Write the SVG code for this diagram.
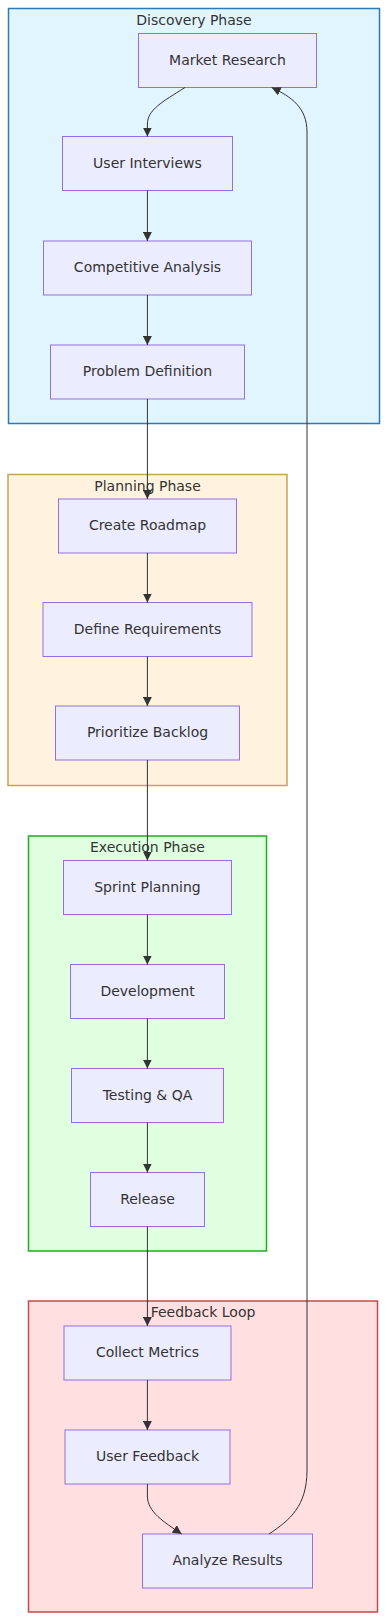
<svg xmlns="http://www.w3.org/2000/svg" width="387" height="1621" viewBox="0 0 387 1621">
<style>
.cl{stroke-width:1.5}
.ct{font-family:"DejaVu Sans",Verdana,sans-serif;font-size:14px;fill:#333;text-anchor:middle}
.nd rect{fill:#ECECFF;stroke:#9370DB;stroke-width:1}
.nd text{font-family:"DejaVu Sans",Verdana,sans-serif;font-size:14px;fill:#333;text-anchor:middle}
.ed{fill:none;stroke:#333;stroke-width:1}
</style>
<defs>
<marker id="ah" viewBox="0 0 10 10" refX="10" refY="5" markerUnits="userSpaceOnUse" markerWidth="9" markerHeight="9" orient="auto">
<path d="M0,0 L10,5 L0,10 z" fill="#333"/>
</marker>
</defs>
<g id="clusters">
<g id="discovery"><rect class="cl" x="8.5" y="8.5" width="371" height="415" fill="#e1f5fe" stroke="#2a7bb8"/><text class="ct" x="194" y="24.5">Discovery Phase</text></g>
<g id="planning"><rect class="cl" x="8" y="474.5" width="279" height="311" fill="#fff3e0" stroke="#c2a556"/><text class="ct" x="147.5" y="490.5">Planning Phase</text></g>
<g id="execution"><rect class="cl" x="28.5" y="836" width="238" height="415" fill="#e0ffe0" stroke="#22aa22"/><text class="ct" x="147.5" y="851.5">Execution Phase</text></g>
<g id="feedback"><rect class="cl" x="28.5" y="1301" width="349" height="311" fill="#ffdfe0" stroke="#c8484a"/><text class="ct" x="203" y="1317">Feedback Loop</text></g>
</g>
<g id="n-market" class="nd"><rect x="138.5" y="33.5" width="178" height="54"/><text x="227.5" y="64.5">Market Research</text></g>
<g id="n-interviews" class="nd"><rect x="62.5" y="136.5" width="170" height="54"/><text x="147.5" y="167.5">User Interviews</text></g>
<g id="n-competitive" class="nd"><rect x="43.5" y="241" width="208" height="54"/><text x="147.5" y="272">Competitive Analysis</text></g>
<g id="n-problem" class="nd"><rect x="50.5" y="345" width="194" height="54"/><text x="147.5" y="376">Problem Definition</text></g>
<g id="n-roadmap" class="nd"><rect x="58.5" y="499" width="178" height="54"/><text x="147.5" y="530">Create Roadmap</text></g>
<g id="n-requirements" class="nd"><rect x="43" y="602.5" width="209" height="54"/><text x="147.5" y="633.5">Define Requirements</text></g>
<g id="n-backlog" class="nd"><rect x="55.5" y="706" width="184" height="54"/><text x="147.5" y="737">Prioritize Backlog</text></g>
<g id="n-sprint" class="nd"><rect x="63.5" y="860.5" width="168" height="54"/><text x="147.5" y="891.5">Sprint Planning</text></g>
<g id="n-dev" class="nd"><rect x="70.5" y="964.5" width="154" height="54"/><text x="147.5" y="995.5">Development</text></g>
<g id="n-testing" class="nd"><rect x="71.5" y="1068.5" width="152" height="54"/><text x="147.5" y="1099.5">Testing &amp; QA</text></g>
<g id="n-release" class="nd"><rect x="90.5" y="1172.5" width="114" height="54"/><text x="147.5" y="1203.5">Release</text></g>
<g id="n-metrics" class="nd"><rect x="64" y="1326" width="167" height="54"/><text x="147.5" y="1357">Collect Metrics</text></g>
<g id="n-userfb" class="nd"><rect x="65" y="1430" width="165" height="54"/><text x="147.5" y="1461">User Feedback</text></g>
<g id="n-analyze" class="nd"><rect x="142.5" y="1534" width="170" height="54"/><text x="227.5" y="1565">Analyze Results</text></g>
<g id="edges">
<path class="ed" marker-end="url(#ah)" d="M185,87.5 C162,102 147.4,110 147.4,124 L147.4,136.5"/>
<path class="ed" marker-end="url(#ah)" d="M147.4,190.5 L147.4,241"/>
<path class="ed" marker-end="url(#ah)" d="M147.4,295 L147.4,345"/>
<path class="ed" marker-end="url(#ah)" d="M147.4,399 L147.4,499"/>
<path class="ed" marker-end="url(#ah)" d="M147.4,553 L147.4,602.5"/>
<path class="ed" marker-end="url(#ah)" d="M147.4,656.5 L147.4,706"/>
<path class="ed" marker-end="url(#ah)" d="M147.4,760 L147.4,860.5"/>
<path class="ed" marker-end="url(#ah)" d="M147.4,914.5 L147.4,964.5"/>
<path class="ed" marker-end="url(#ah)" d="M147.4,1018.5 L147.4,1068.5"/>
<path class="ed" marker-end="url(#ah)" d="M147.4,1122.5 L147.4,1172.5"/>
<path class="ed" marker-end="url(#ah)" d="M147.4,1226.5 L147.4,1326"/>
<path class="ed" marker-end="url(#ah)" d="M147.4,1380 L147.4,1430"/>
<path class="ed" marker-end="url(#ah)" d="M147.4,1484 L147.4,1496 C147.4,1512 164,1522 181.7,1534"/>
<path class="ed" marker-end="url(#ah)" d="M269,1534 C290,1520 307,1506 307,1470 L307,132 C307,108 292,97 271.7,87.5"/>
</g>
</svg>
